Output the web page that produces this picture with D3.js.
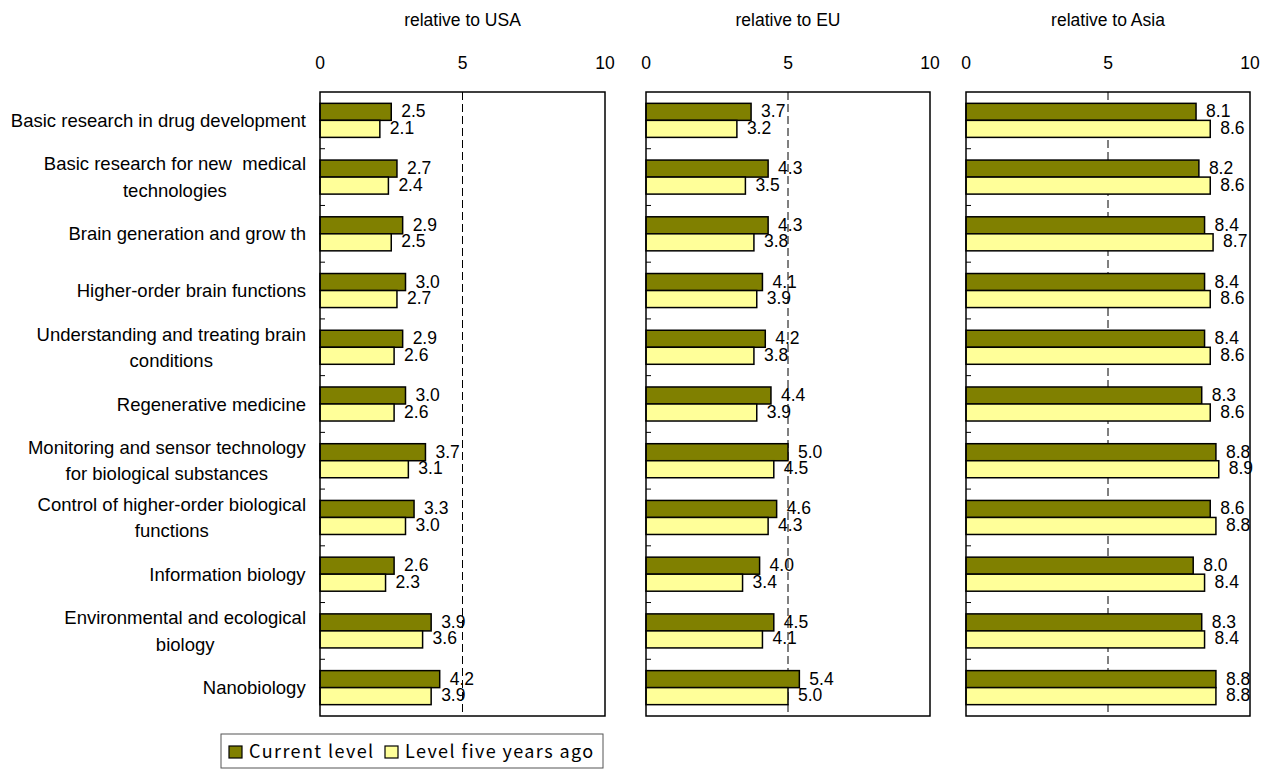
<!DOCTYPE html>
<html>
<head>
<meta charset="utf-8">
<script src="https://cdn.jsdelivr.net/npm/d3@7"></script>
<style>
  body { margin: 0; background: #fff; }
  svg { display: block; }
  text { font-family: "Liberation Sans", Arial, sans-serif; fill: #000; }
</style>
</head>
<body>
<svg id="svg" width="1273" height="769"></svg>
<script>
// categories (top to bottom)
var categories = [
    ['Basic research in drug development'],
    ['Basic research for new\u00a0\u00a0medical', 'technologies'],
    ['Brain generation and grow th'],
    ['Higher-order brain functions'],
    ['Understanding and treating brain', 'conditions'],
    ['Regenerative medicine'],
    ['Monitoring and sensor technology', 'for biological substances'],
    ['Control of higher-order biological', 'functions'],
    ['Information biology'],
    ['Environmental and ecological', 'biology'],
    ['Nanobiology']
];

var panelTitles = ['relative to USA', 'relative to EU', 'relative to Asia'];
var seriesNames = ['Current level', 'Level five years ago'];
var xTicks = [0, 5, 10];

var usaCurrent = [2.5, 2.7, 2.9, 3.0, 2.9, 3.0, 3.7, 3.3, 2.6, 3.9, 4.2];
var usaPast    = [2.1, 2.4, 2.5, 2.7, 2.6, 2.6, 3.1, 3.0, 2.3, 3.6, 3.9];
var euCurrent  = [3.7, 4.3, 4.3, 4.1, 4.2, 4.4, 5.0, 4.6, 4.0, 4.5, 5.4];
var euPast     = [3.2, 3.5, 3.8, 3.9, 3.8, 3.9, 4.5, 4.3, 3.4, 4.1, 5.0];
var asiaCurrent = [8.1, 8.2, 8.4, 8.4, 8.4, 8.3, 8.8, 8.6, 8.0, 8.3, 8.8];
var asiaPast    = [8.6, 8.6, 8.7, 8.6, 8.6, 8.6, 8.9, 8.8, 8.4, 8.4, 8.8];

var panelData = [[usaCurrent, usaPast], [euCurrent, euPast], [asiaCurrent, asiaPast]];
var colors = ['#808000', '#ffff99'];

var svg = d3.select('svg');

var plotTop = 92, plotBottom = 716;
var panelX = [[320, 605], [646, 930], [966, 1250]];

var y = d3.scaleBand()
    .domain(d3.range(categories.length))
    .range([plotTop, plotBottom])
    .paddingInner(0.4)
    .paddingOuter(0.2);

var ySub = d3.scaleBand()
    .domain([0, 1])
    .range([0, y.bandwidth()]);

// category labels
var labels = svg.append('g');
categories.forEach(function(lines, i) {
    var cy = y(i) + y.bandwidth() / 2;
    var t = labels.append('text')
        .attr('font-size', 18.5)
        .attr('text-anchor', 'middle');
    lines.forEach(function(l, j) {
        t.append('tspan')
            .attr('x', 0)
            .attr('y', cy + (j - (lines.length - 1) / 2) * 26.5 + 6.5)
            .text(l);
    });
    // right-align the block, center the lines inside it
    var w = t.node().getBBox().width;
    t.attr('transform', 'translate(' + (306 - w / 2) + ',0)');
});

panelData.forEach(function(series, p) {
    var x = d3.scaleLinear().domain([0, 10]).range(panelX[p]);
    var g = svg.append('g');

    g.append('text')
        .attr('x', (panelX[p][0] + panelX[p][1]) / 2)
        .attr('y', 25.5)
        .attr('text-anchor', 'middle')
        .attr('font-size', 17.5)
        .text(panelTitles[p]);

    g.selectAll('.tick-label')
        .data(xTicks)
        .enter()
        .append('text')
        .attr('x', function(d) { return x(d); })
        .attr('y', 69)
        .attr('text-anchor', 'middle')
        .attr('font-size', 17.5)
        .text(function(d) { return d; });

    // dashed reference line at 5
    g.append('line')
        .attr('x1', x(5)).attr('x2', x(5))
        .attr('y1', plotTop).attr('y2', plotBottom)
        .attr('stroke', '#000')
        .attr('stroke-width', 1)
        .attr('stroke-dasharray', '8,4');

    // inner ticks at category boundaries
    var bounds = d3.range(1, categories.length).map(function(i) {
        return y(i) - y.step() * y.paddingInner() / 2;
    });
    g.selectAll('.ytick')
        .data(bounds)
        .enter()
        .append('line')
        .attr('x1', x(0)).attr('x2', x(0) + 5)
        .attr('y1', function(d) { return d; })
        .attr('y2', function(d) { return d; })
        .attr('stroke', '#000');

    series.forEach(function(vals, s) {
        g.selectAll('.bar' + s)
            .data(vals)
            .enter()
            .append('rect')
            .attr('x', x(0))
            .attr('y', function(d, i) { return y(i) + ySub(s); })
            .attr('width', function(d) { return x(d) - x(0); })
            .attr('height', ySub.bandwidth())
            .attr('fill', colors[s])
            .attr('stroke', '#000')
            .attr('stroke-width', 1.5);

        g.selectAll('.val' + s)
            .data(vals)
            .enter()
            .append('text')
            .attr('x', function(d) { return x(d) + 10; })
            .attr('y', function(d, i) { return y(i) + ySub(s) + ySub.bandwidth() / 2 + (s === 0 ? 5.5 : 5); })
            .attr('font-size', 17.5)
            .text(function(d) { return d.toFixed(1); });
    });

    g.append('rect')
        .attr('x', panelX[p][0])
        .attr('y', plotTop)
        .attr('width', panelX[p][1] - panelX[p][0])
        .attr('height', plotBottom - plotTop)
        .attr('fill', 'none')
        .attr('stroke', '#000')
        .attr('stroke-width', 1.5);
});

// legend
var legend = svg.append('g');
legend.append('rect')
    .attr('x', 221).attr('y', 734)
    .attr('width', 382).attr('height', 34)
    .attr('fill', '#fff')
    .attr('stroke', '#555')
    .attr('stroke-width', 1);

var legX = [229, 385];
seriesNames.forEach(function(name, s) {
    legend.append('rect')
        .attr('x', legX[s]).attr('y', 746)
        .attr('width', 13).attr('height', 12)
        .attr('fill', colors[s])
        .attr('stroke', '#000')
        .attr('stroke-width', 1.2);
    legend.append('text')
        .attr('x', legX[s] + 20)
        .attr('y', 758)
        .attr('font-size', 18)
        .attr('letter-spacing', 1.4)
        .style('font-family', '"Noto Sans CJK JP", sans-serif')
        .text(name);
});
</script>
</body>
</html>
